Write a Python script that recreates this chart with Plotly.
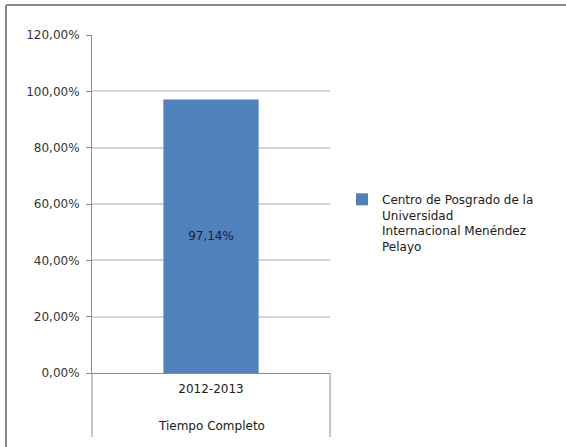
import plotly.graph_objects as go

categories = ["2012-2013"]
group_label = "Tiempo Completo"
series_name = "Centro de Posgrado de la<br>Universidad<br>Internacional Menéndez<br>Pelayo"
values = [0.9714]
y_ticks = [0, 0.2, 0.4, 0.6, 0.8, 1.0, 1.2]

W, H = 566, 447
L, R, T, B = 92, 330, 35, 373
pw, ph = R - L, B - T

def px(x):
    return (x - L) / pw

def py(y):
    return (B - y) / ph

FONT = "DejaVu Sans"

fig = go.Figure()
fig.add_trace(go.Bar(
    x=categories, y=values, name=series_name, width=0.4,
    marker=dict(color="#4F81BD", line=dict(width=0)),
    texttemplate="%{y:.2%}", textposition="inside", insidetextanchor="middle",
    textfont=dict(family=FONT, size=12, color="#222222"),
    showlegend=True,
))

fig.update_layout(
    width=W, height=H,
    margin=dict(l=L, r=W - R, t=T, b=H - B, autoexpand=False),
    paper_bgcolor="white", plot_bgcolor="white",
    separators=",.",
    font=dict(family=FONT, size=12, color="#404040"),
    xaxis=dict(
        range=[-0.5, 0.5], showgrid=False, showline=True, linecolor="#8c8c8c",
        linewidth=1, ticks="", tickfont=dict(size=12, color="#202020"),
        ticklabelstandoff=5,
    ),
    yaxis=dict(
        range=[0, 1.2], tickvals=y_ticks, tickformat=".2%",
        showgrid=True, gridcolor="#d4d4d4", gridwidth=1.5,
        showline=True, linecolor="#8c8c8c", linewidth=1,
        ticks="outside", ticklen=5, tickcolor="#8c8c8c",
        ticklabelstandoff=4, zeroline=False,
        tickfont=dict(size=12, color="#353535"),
    ),
    legend=dict(
        x=px(342), y=py(185), xanchor="left", yanchor="top",
        font=dict(family=FONT, size=12, color="#202020"),
        itemsizing="constant", bgcolor="rgba(0,0,0,0)",
        tracegroupgap=0, itemwidth=30, valign="top",
    ),
    bargap=0.6,
)

# category group label
fig.add_annotation(
    x=0, xref="x", y=py(426), yref="paper", text=group_label, showarrow=False,
    font=dict(family=FONT, size=12, color="#202020"), yanchor="middle",
)

shapes = []
# multi-level category separators
for xx in (L, R):
    shapes.append(dict(type="line", xref="paper", yref="paper",
                       x0=px(xx), x1=px(xx), y0=0, y1=py(437),
                       line=dict(color="#8c8c8c", width=1)))
# outer chart frame (top and left)
shapes.append(dict(type="line", xref="paper", yref="paper",
                   x0=px(6), x1=px(566), y0=py(5), y1=py(5),
                   line=dict(color="#8a8a8a", width=2)))
shapes.append(dict(type="line", xref="paper", yref="paper",
                   x0=px(6), x1=px(6), y0=py(5), y1=py(447),
                   line=dict(color="#8a8a8a", width=2)))
fig.update_layout(shapes=shapes)

fig.write_html("out.html", config={"displayModeBar": False},
               post_script="document.body.style.margin='0';document.body.style.padding='0';")
